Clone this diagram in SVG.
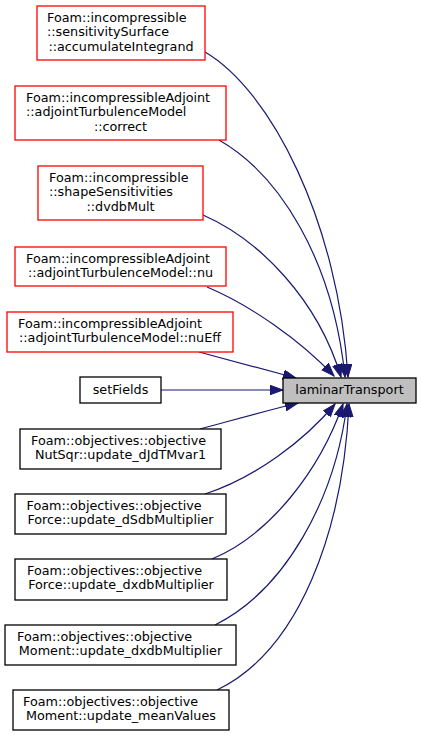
<svg xmlns="http://www.w3.org/2000/svg" width="421" height="737" viewBox="0 0 421 737">
<style>
text{font-family:"DejaVu Sans",sans-serif;font-size:12.75px;fill:#000}
.s{text-anchor:start}
.m{text-anchor:middle}
.n rect{fill:#fff;stroke:#000;stroke-width:1.3}
.r rect{fill:#fff;stroke:#ff0000;stroke-width:1.3}
.cur rect{fill:#bfbfbf;stroke:#000;stroke-width:1.3}
.e path{fill:none;stroke:#191970;stroke-width:1.2;marker-end:url(#ah)}
</style>
<defs>
<marker id="ah" markerUnits="userSpaceOnUse" markerWidth="14" markerHeight="11" refX="13" refY="4.75" orient="auto">
<path d="M0,0 L13,4.75 L0,9.5 z" fill="#191970" stroke="#191970" stroke-width="1"/>
</marker>
</defs>
<g id="edges" class="e">
<path d="M205,52 C270,90 338,220 348,377"/>
<path d="M219,140 C280,175 333,260 345,377"/>
<path d="M203,215 C260,240 318,300 341,377"/>
<path d="M207,287 C250,305 300,340 334,376"/>
<path d="M199,352 L296,378"/>
<path d="M161,390 L283,390"/>
<path d="M200,429 C230,421 265,411 298,403"/>
<path d="M205,494 C255,478 305,440 335,404"/>
<path d="M212,559 C270,535 320,470 343,404"/>
<path d="M215,625 C285,590 335,500 347,404"/>
<path d="M217,690 C300,650 343,530 349,404"/>
</g>
<g id="laminarTransport" class="cur">
<rect x="283" y="378" width="133" height="25"/>
<text class="m" x="349.5" y="394">laminarTransport</text>
</g>
<g id="node1" class="r">
<rect x="37" y="6" width="168" height="54"/>
<text class="s" x="47" y="21.5">Foam::incompressible</text>
<text class="s" x="47" y="36">::sensitivitySurface</text>
<text class="m" x="121" y="50.5">::accumulateIntegrand</text>
</g>
<g id="node2" class="r">
<rect x="15" y="86" width="211" height="54"/>
<text class="s" x="26" y="101.5">Foam::incompressibleAdjoint</text>
<text class="s" x="26" y="116">::adjointTurbulenceModel</text>
<text class="m" x="120.5" y="130.5">::correct</text>
</g>
<g id="node3" class="r">
<rect x="38" y="166" width="165" height="54"/>
<text class="s" x="49" y="181.5">Foam::incompressible</text>
<text class="s" x="49" y="196">::shapeSensitivities</text>
<text class="m" x="120.5" y="210.5">::dvdbMult</text>
</g>
<g id="node4" class="r">
<rect x="15" y="247" width="211" height="39"/>
<text class="s" x="26" y="262.5">Foam::incompressibleAdjoint</text>
<text class="m" x="120.5" y="277">::adjointTurbulenceModel::nu</text>
</g>
<g id="node5" class="r">
<rect x="7" y="312" width="226" height="40"/>
<text class="s" x="18" y="327.5">Foam::incompressibleAdjoint</text>
<text class="m" x="120" y="342">::adjointTurbulenceModel::nuEff</text>
</g>
<g id="node6" class="n">
<rect x="80" y="377" width="81" height="26"/>
<text class="m" x="120.5" y="394">setFields</text>
</g>
<g id="node7" class="n">
<rect x="20" y="429" width="201" height="40"/>
<text class="s" x="31" y="444.5">Foam::objectives::objective</text>
<text class="m" x="120.5" y="459">NutSqr::update_dJdTMvar1</text>
</g>
<g id="node8" class="n">
<rect x="15" y="494" width="211" height="40"/>
<text class="s" x="26.5" y="509.5">Foam::objectives::objective</text>
<text class="m" x="120.5" y="524">Force::update_dSdbMultiplier</text>
</g>
<g id="node9" class="n">
<rect x="15" y="559" width="212" height="41"/>
<text class="s" x="27" y="574.5">Foam::objectives::objective</text>
<text class="m" x="121" y="589">Force::update_dxdbMultiplier</text>
</g>
<g id="node10" class="n">
<rect x="5" y="625" width="231" height="40"/>
<text class="s" x="17" y="640.5">Foam::objectives::objective</text>
<text class="m" x="120.5" y="655">Moment::update_dxdbMultiplier</text>
</g>
<g id="node11" class="n">
<rect x="13" y="690" width="216" height="40"/>
<text class="s" x="23" y="705.5">Foam::objectives::objective</text>
<text class="m" x="121" y="720">Moment::update_meanValues</text>
</g>
</svg>
